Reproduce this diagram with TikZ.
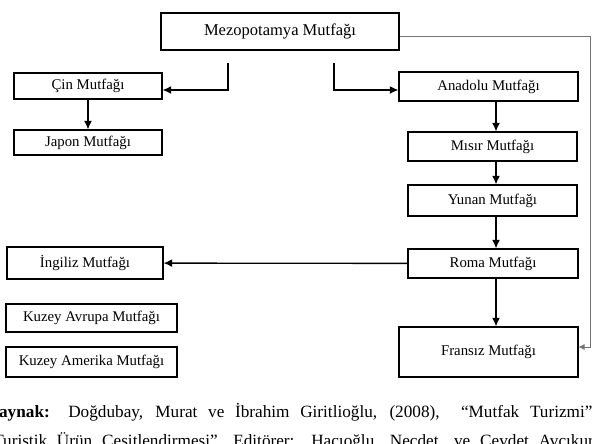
\documentclass[tikz,border=0pt]{standalone}
\usepackage{fontspec}
\setmainfont{Liberation Serif}
\usetikzlibrary{arrows.meta}

\begin{document}
\begin{tikzpicture}[
    x = 0.75pt, y = -0.75pt,
    > = {Latex[length = 6.5pt, width = 6pt]},
    mutfak/.style = {draw,
      line width = 0.8pt,
      inner sep = 0pt,
      font = \fontsize{11.1}{13}\selectfont},
    boxsize/.style 2 args = {minimum width = {#1*0.75pt},
      minimum height = {#2*0.75pt}},
    mainbox/.style = {font = \fontsize{12.4}{15}\selectfont},
    link/.style = {->, line width = 1pt},
    rail/.style = {-{Latex[length = 4.5pt, width = 4.5pt]},
      line width = 0.6pt, black!55},
    caption/.style = {anchor = base west, inner sep = 0pt,
      font = \fontsize{12.9}{15}\selectfont},
    ]

    \useasboundingbox (0, 0) rectangle (592, 443);
    \clip (0, 0) rectangle (592, 443);

    \node at (280, 31.5)
    [mutfak, mainbox, boxsize = {238}{37}, name = mezo] {Mezopotamya Mutfağı};

    \node at (88, 86)
    [mutfak, boxsize = {148}{26}, name = cin] {Çin Mutfağı};
    \node at (88, 142.5)
    [mutfak, boxsize = {148}{25}, name = japon] {Japon Mutfağı};

    \node at (488.5, 86.5)
    [mutfak, boxsize = {179}{29}, name = anadolu] {Anadolu Mutfağı};
    \node at (492.5, 146.5)
    [mutfak, boxsize = {169}{29}, name = misir] {Mısır Mutfağı};
    \node at (492.5, 200.5)
    [mutfak, boxsize = {169}{31}, name = yunan] {Yunan Mutfağı};
    \node at (493, 263.5)
    [mutfak, boxsize = {170}{29}, name = roma] {Roma Mutfağı};
    \node at (488.5, 352)
    [mutfak, boxsize = {179}{50}, name = fransiz] {Fransız Mutfağı};

    \node at (85, 263)
    [mutfak, boxsize = {156}{32}, name = ingiliz] {İngiliz Mutfağı};
    \node at (91.5, 318)
    [mutfak, boxsize = {171}{28}, name = kavrupa] {Kuzey Avrupa Mutfağı};
    \node at (91.5, 362)
    [mutfak, boxsize = {171}{30}, name = kamerika] {Kuzey Amerika Mutfağı};

    % branches leaving below Mezopotamya
    \coordinate (doguya) at (228, 63);
    \coordinate (batiya) at (334, 63);
    \coordinate (spine) at (496, 0);

    \draw [link] (doguya) |- ([yshift = -3pt]cin.east);
    \draw [link] (batiya) |- ([yshift = -2.6pt]anadolu.west);
    \draw [rail] ([yshift = -4pt]mezo.east) -| ([xshift = 9pt, yshift = 3.75pt]fransiz.east)
    -- ([yshift = 3.75pt]fransiz.east);

    \draw [link] (cin) -- (japon);

    \draw [link] (anadolu.south -| spine) -- (misir.north -| spine);
    \draw [link] (misir.south -| spine) -- (yunan.north -| spine);
    \draw [link] (yunan.south -| spine) -- (roma.north -| spine);
    \draw [link] (roma.south -| spine) -- (fransiz.north -| spine);
    \draw [link] (roma) -- (ingiliz);

    % source lines under the chart
    \node at (-14.5, 417) [caption, name = kaynak1]
    {\makebox[455pt][s]{\textbf{Kaynak:} Doğdubay, Murat ve İbrahim Giritlioğlu, (2008),\ \ “Mutfak Turizmi”}};
    \node at (-7, 446) [caption, name = kaynak2]
    {\makebox[454pt][s]{Turistik Ürün Çeşitlendirmesi”, Editörer: Hacıoğlu, Necdet, ve Cevdet Avcıkurt}};
  \end{tikzpicture}
\end{document}
